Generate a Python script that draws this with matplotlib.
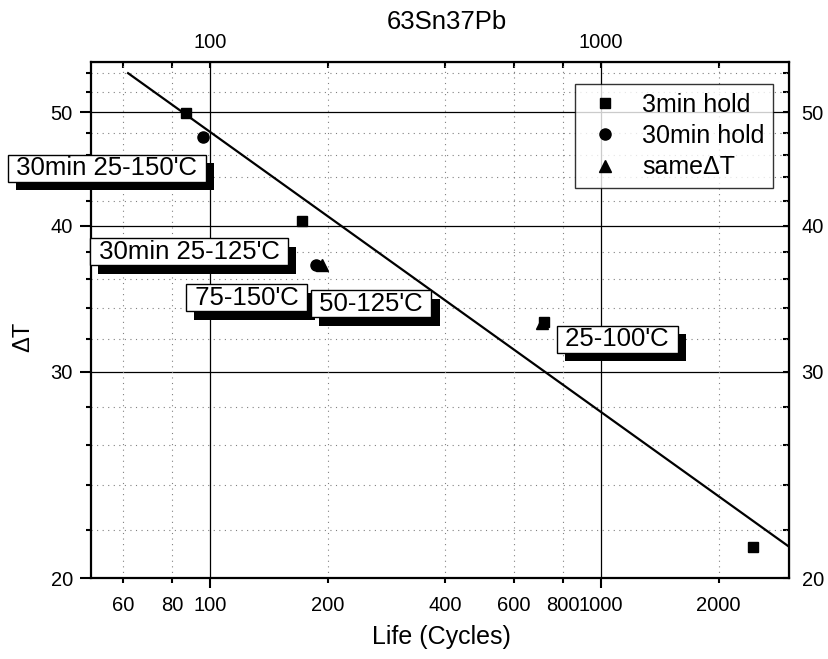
import matplotlib
matplotlib.use("Agg")
import matplotlib.pyplot as plt
import matplotlib.patheffects as pe
from matplotlib.ticker import FixedLocator, FuncFormatter, NullFormatter

plt.rcParams['font.family'] = ['Liberation Sans', 'DejaVu Sans']

# --- values ---
sq_x = [86.8, 172, 715, 2450]        # 3min hold
sq_y = [49.9, 40.4, 33.1, 21.25]
circ_x = [96.0, 186.5]               # 30min hold
circ_y = [47.6, 37.0]
tri_x = [193, 705]                   # same dT
tri_y = [37.0, 33.0]
fit_x = [61.7, 3030]
fit_y = [54.0, 21.27]

box_text = ["30min 25-150'C", "30min 25-125'C", "75-150'C", "50-125'C", "25-100'C"]
box_x = [54.5, 88.4, 124, 258, 1102]
box_y = [44.8, 38.0, 34.7, 34.3, 32.0]

x_major = [100, 1000]
x_minor = [60, 80, 200, 400, 600, 800, 2000]
y_major = [20, 30, 40, 50]
y_minor = [22, 24, 26, 28, 32, 34, 36, 38, 42, 44, 46, 48, 52, 54]

fmt = FuncFormatter(lambda v, p: f"{v:g}")

fig = plt.figure(figsize=(8.29, 6.59), dpi=100)
ax = fig.add_axes([0.1098, 0.1229, 0.8420, 0.7830])
ax.set_xscale('log')
ax.set_yscale('log')
ax.set_xlim(49.6, 3030)
ax.set_ylim(20, 55.2)

# grid
for v in x_major:
    ax.axvline(v, color='black', lw=0.9, zorder=1)
for v in y_major[1:]:
    ax.axhline(v, color='black', lw=0.9, zorder=1)
for v in x_minor:
    ax.axvline(v, color='0.5', lw=0.8, ls=(0, (1, 4)), zorder=1)
for v in y_minor:
    ax.axhline(v, color='0.5', lw=0.8, ls=(0, (1, 4)), zorder=1)

ax.plot(fit_x, fit_y, color='black', lw=1.6, zorder=3)
ax.plot(sq_x, sq_y, 's', color='black', ms=7.5, label='3min hold', zorder=4)
ax.plot(circ_x, circ_y, 'o', color='black', ms=8, label='30min hold', zorder=4)
ax.plot(tri_x, tri_y, '^', color='black', ms=9, label='same\u0394T', zorder=4)

for s, x, y in zip(box_text, box_x, box_y):
    t = ax.text(x, y, ' ' + s + ' ', fontsize=18.5, ha='center', va='center', zorder=6,
                clip_on=False,
                bbox=dict(boxstyle='square,pad=0.06', fc='white', ec='black', lw=1))
    t.get_bbox_patch().set_path_effects(
        [pe.SimplePatchShadow(offset=(6, -6), shadow_rgbFace='black', alpha=1.0), pe.Normal()])

leg = ax.legend(loc='upper right', bbox_to_anchor=(0.977, 0.957), borderaxespad=0,
                fontsize=18, frameon=True, fancybox=False, edgecolor='black',
                labelspacing=0.29, handlelength=1.7, handletextpad=0.63, borderpad=0.35,
                numpoints=1)
leg.get_frame().set_linewidth(1.0)
leg.set_zorder(7)

# bottom / left axes
ax.xaxis.set_major_locator(FixedLocator(x_major))
ax.xaxis.set_minor_locator(FixedLocator(x_minor))
ax.xaxis.set_major_formatter(fmt)
ax.xaxis.set_minor_formatter(fmt)
ax.yaxis.set_major_locator(FixedLocator(y_major))
ax.yaxis.set_minor_locator(FixedLocator(y_minor))
ax.yaxis.set_major_formatter(fmt)
ax.yaxis.set_minor_formatter(NullFormatter())

ax.tick_params(axis='x', which='major', direction='out', length=7, width=1.5, labelsize=14.5, pad=6)
ax.tick_params(axis='x', which='minor', direction='out', length=3.5, width=1.5, labelsize=14.5, pad=9.5)
ax.tick_params(axis='y', which='major', direction='out', length=8, width=1.5, labelsize=14.5, pad=5)
ax.tick_params(axis='y', which='minor', direction='out', length=3.5, width=1.5)
for sp in ax.spines.values():
    sp.set_linewidth(1.6)

# top / right axes
top = ax.secondary_xaxis('top')
top.xaxis.set_major_locator(FixedLocator(x_major))
top.xaxis.set_minor_locator(FixedLocator(x_minor))
top.xaxis.set_major_formatter(fmt)
top.xaxis.set_minor_formatter(NullFormatter())
top.tick_params(which='both', direction='in', length=4.5, width=1.5, labelsize=14.5, pad=7)

right = ax.secondary_yaxis('right')
right.yaxis.set_major_locator(FixedLocator(y_major))
right.yaxis.set_minor_locator(FixedLocator(y_minor))
right.yaxis.set_major_formatter(fmt)
right.yaxis.set_minor_formatter(NullFormatter())
right.tick_params(which='both', direction='in', length=4.5, width=1.5, labelsize=14.5, pad=9)

ax.set_xlabel('Life (Cycles)', fontsize=18)
ax.xaxis.set_label_coords(0.5014, -0.1143)
ax.xaxis.label.set_va('center')
ax.set_ylabel('\u0394T', fontsize=17)
ax.yaxis.set_label_coords(-0.0974, 0.467)
ax.yaxis.label.set_va('center')

fig.text(0.539, 0.9666, '63Sn37Pb', fontsize=18.5, ha='center', va='center')

fig.savefig('out.png', dpi=100)
